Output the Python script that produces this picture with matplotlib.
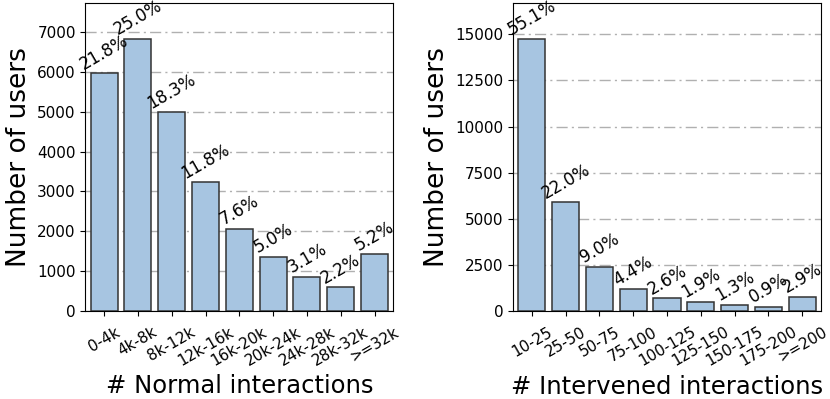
"""User distribution over normal and intervened interaction counts."""

import matplotlib
matplotlib.use("Agg")
import matplotlib.pyplot as plt
import numpy as np

normal_bins = ["0-4k", "4k-8k", "8k-12k", "12k-16k", "16k-20k",
               "20k-24k", "24k-28k", "28k-32k", ">=32k"]
normal_users = [5960, 6830, 4990, 3230, 2065, 1362, 860, 601, 1425]
normal_pct = ["21.8%", "25.0%", "18.3%", "11.8%", "7.6%",
              "5.0%", "3.1%", "2.2%", "5.2%"]

interv_bins = ["10-25", "25-50", "50-75", "75-100", "100-125",
               "125-150", "150-175", "175-200", ">=200"]
interv_users = [14760, 5893, 2411, 1179, 696, 509, 348, 241, 777]
interv_pct = ["55.1%", "22.0%", "9.0%", "4.4%", "2.6%",
              "1.9%", "1.3%", "0.9%", "2.9%"]

BAR_COLOR = "#a7c5e1"


def draw_panel(ax, bins, users, pct, xlabel, yticks):
    x = np.arange(len(bins))
    ax.bar(x, users, width=0.8, color=BAR_COLOR, edgecolor="#333333",
           linewidth=1.1, zorder=3)
    for xi, yi, lab in zip(x, users, pct):
        ax.text(xi, yi, lab, rotation=30, ha="center", va="bottom",
                fontsize=12, zorder=4)
    ax.set_xticks(x)
    ax.set_xticklabels(bins, rotation=30, fontsize=11)
    ax.set_yticks(yticks)
    ax.tick_params(axis="y", labelsize=11)
    ax.tick_params(axis="x", pad=6)
    ax.set_xlim(-0.55, len(bins) - 0.45)
    ax.set_ylim(0, max(users) * 1.13)
    ax.yaxis.grid(True, linestyle=(0, (8, 3, 1.5, 3)), color="#b0b0b0",
                  linewidth=1.0, zorder=0)
    ax.set_axisbelow(True)
    ax.set_xlabel(xlabel, fontsize=17.5)
    ax.set_ylabel("Number of users", fontsize=19)


fig, (ax1, ax2) = plt.subplots(1, 2, figsize=(8.3, 3.99), dpi=100)
draw_panel(ax1, normal_bins, normal_users, normal_pct, "# Normal interactions",
           np.arange(0, 7001, 1000))
draw_panel(ax2, interv_bins, interv_users, interv_pct, "# Intervened interactions",
           np.arange(0, 15001, 2500))
fig.subplots_adjust(left=0.103, right=0.989, top=0.992, bottom=0.22, wspace=0.39)
fig.savefig("out.png", dpi=100)
